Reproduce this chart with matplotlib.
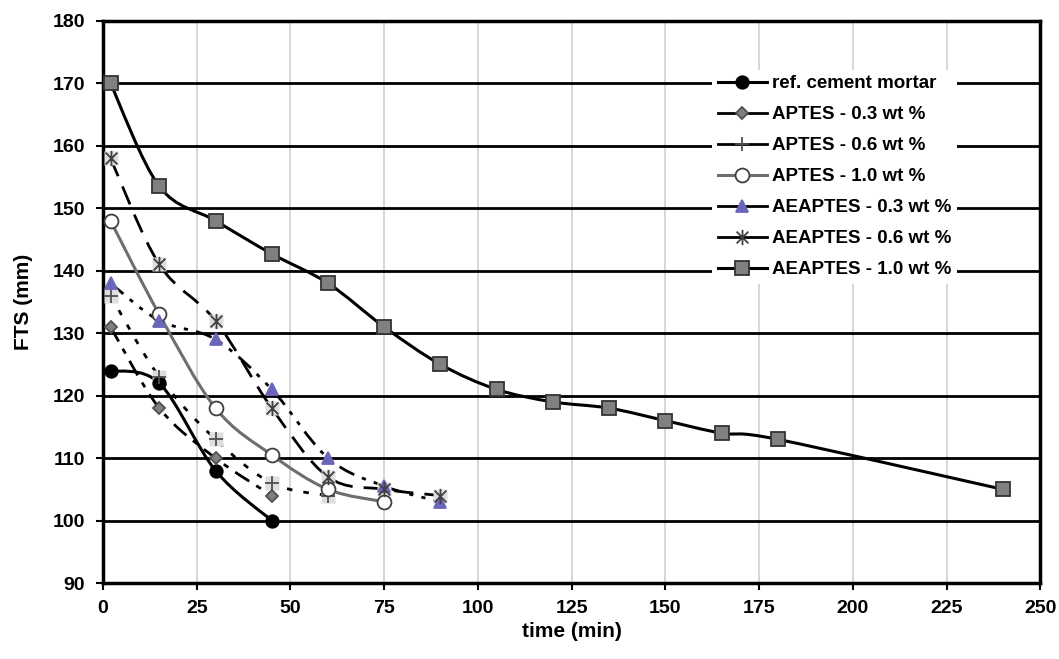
import numpy as np
import matplotlib.pyplot as plt
from matplotlib.path import Path
from matplotlib.patches import PathPatch
from matplotlib.lines import Line2D

plt.rcParams['font.family'] = ['Liberation Sans', 'DejaVu Sans']
plt.rcParams['font.weight'] = 'bold'

# data
t_ref = [2, 15, 30, 45]
fts_ref = [124, 122, 108, 100]

t_ap03 = [2, 15, 30, 45]
fts_ap03 = [131, 118, 110, 104]

t_ap06 = [2, 15, 30, 45, 60]
fts_ap06 = [136, 123, 113, 106, 104]

t_ap10 = [2, 15, 30, 45, 60, 75]
fts_ap10 = [148, 133, 118, 110.5, 105, 103]

t_ae03 = [2, 15, 30, 45, 60, 75, 90]
fts_ae03 = [138, 132, 129, 121, 110, 105.5, 103]

t_ae06 = [2, 15, 30, 45, 60, 75, 90]
fts_ae06 = [158, 141, 132, 118, 107, 105, 104]

t_ae10 = [2, 15, 30, 45, 60, 75, 90, 105, 120, 135, 150, 165, 180, 240]
fts_ae10 = [170, 153.5, 148, 142.7, 138, 131, 125, 121, 119, 118, 116, 114, 113, 105]

labels = ['ref. cement mortar', 'APTES - 0.3 wt %', 'APTES - 0.6 wt %',
          'APTES - 1.0 wt %', 'AEAPTES - 0.3 wt %', 'AEAPTES - 0.6 wt %',
          'AEAPTES - 1.0 wt %']


def smooth_path(x, y):
    # excel style smoothed line: cubic bezier through the points
    p = np.column_stack([x, y]).astype(float)
    verts = [p[0]]
    codes = [Path.MOVETO]
    n = len(p)
    for i in range(n - 1):
        p0 = p[i - 1] if i > 0 else p[i]
        p3 = p[i + 2] if i + 2 < n else p[i + 1]
        c1 = p[i] + (p[i + 1] - p0) / 6.0
        c2 = p[i + 1] - (p3 - p[i]) / 6.0
        verts += [c1, c2, p[i + 1]]
        codes += [Path.CURVE4] * 3
    return Path(verts, codes)


# excel-like asterisk: an X with a vertical bar
star = Path([(-1, -1), (1, 1), (-1, 1), (1, -1), (0, -1.3), (0, 1.3)],
            [Path.MOVETO, Path.LINETO] * 3)

fig = plt.figure(figsize=(10.59, 6.59), dpi=100)
ax = fig.add_axes([0.0973, 0.1153, 0.885, 0.853])

styles = [
    dict(x=t_ref, y=fts_ref, color='black', lw=2.2, ls='-', marker='o', mfc='black', mec='black', ms=9, bg=False),
    dict(x=t_ap03, y=fts_ap03, color='black', lw=2.0, ls=(0, (6, 3, 2, 3)), marker='D', mfc='#808080', mec='#505050', ms=6.5, bg=False),
    dict(x=t_ap06, y=fts_ap06, color='black', lw=2.0, ls=(0, (2, 4)), marker='+', mfc='#505050', mec='#505050', ms=10, bg=True),
    dict(x=t_ap10, y=fts_ap10, color='#6e6e6e', lw=2.2, ls='-', marker='o', mfc='white', mec='#404040', ms=10, bg=False),
    dict(x=t_ae03, y=fts_ae03, color='black', lw=2.0, ls=(0, (6, 3, 1.5, 3, 1.5, 3)), marker='^', mfc='#6a66b8', mec='#6a66b8', ms=8, bg=False),
    dict(x=t_ae06, y=fts_ae06, color='black', lw=2.0, ls=(0, (7, 4)), marker=star, mfc='#404040', mec='#404040', ms=11, bg=True),
    dict(x=t_ae10, y=fts_ae10, color='black', lw=2.2, ls='-', marker='s', mfc='#808080', mec='#333333', ms=10, bg=False),
]

handles = []
for s, lab in zip(styles, labels):
    patch = PathPatch(smooth_path(s['x'], s['y']), facecolor='none', edgecolor=s['color'],
                      lw=s['lw'], linestyle=s['ls'], zorder=3)
    ax.add_patch(patch)
    if s['bg']:
        # light grey square behind cross / asterisk markers
        ax.plot(s['x'], s['y'], ls='none', marker='s', ms=10, mfc='#dedede', mec='none', zorder=4)
    ax.plot(s['x'], s['y'], ls='none', marker=s['marker'], ms=s['ms'], mfc=s['mfc'],
            mec=s['mec'], mew=1.3, zorder=5)
    handles.append(Line2D([], [], color=s['color'], lw=s['lw'], ls='-', marker=s['marker'],
                          ms=s['ms'], mfc=s['mfc'], mec=s['mec'], mew=1.3))

ax.set_xlim(0, 250)
ax.set_ylim(90, 180)
ax.set_xticks(np.arange(0, 251, 25))
ax.set_yticks(np.arange(90, 181, 10))
ax.yaxis.grid(True, color='black', lw=2)
ax.xaxis.grid(True, color='#d0d0d0', lw=1.2)
ax.set_axisbelow(True)
for sp in ax.spines.values():
    sp.set_linewidth(2.5)
ax.tick_params(axis='both', labelsize=14, width=1.5, length=5, direction='out')
ax.tick_params(axis='y', pad=8)
ax.tick_params(axis='x', pad=7)
for lbl in ax.get_xticklabels() + ax.get_yticklabels():
    lbl.set_fontweight('bold')

ax.set_xlabel('time (min)', fontsize=15, fontweight='bold', labelpad=4)
ax.set_ylabel('FTS (mm)', fontsize=15, fontweight='bold', labelpad=14)

leg = ax.legend(handles, labels, loc='upper left', bbox_to_anchor=(0.64, 0.93),
                frameon=True, fancybox=False, edgecolor='none', facecolor='white',
                framealpha=1, fontsize=13.5, handlelength=2.6, handletextpad=0.3,
                labelspacing=0.74, borderpad=0.3)
for txt in leg.get_texts():
    txt.set_fontweight('bold')

fig.savefig('out.png', dpi=100)
